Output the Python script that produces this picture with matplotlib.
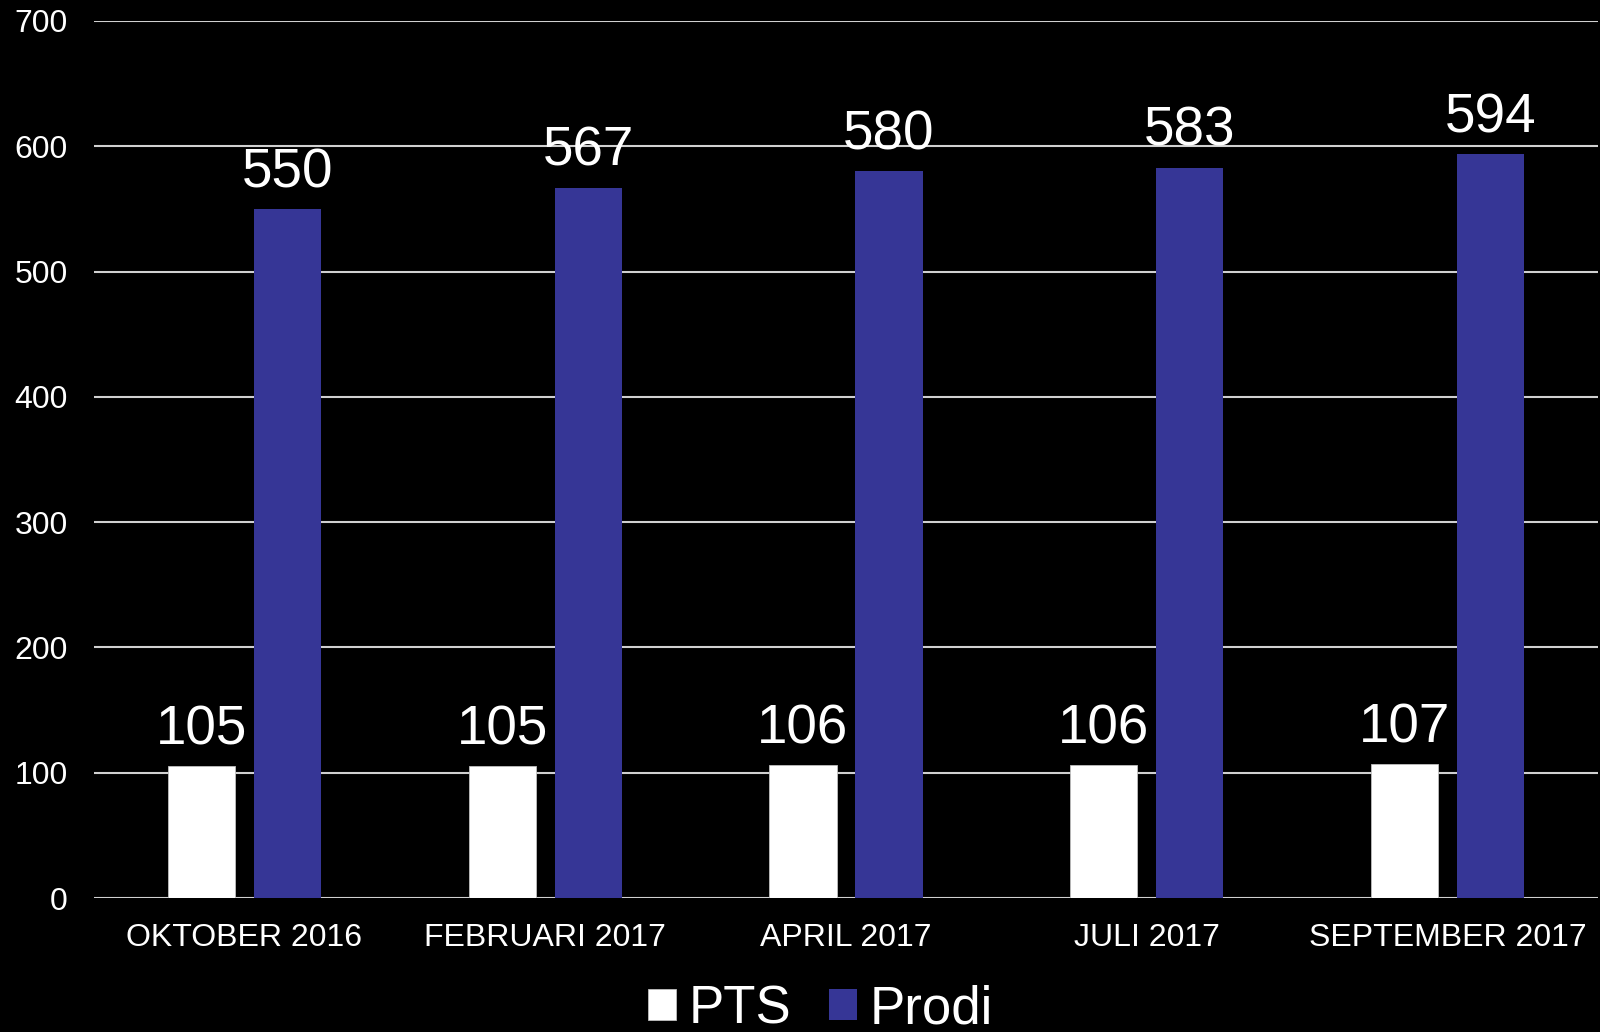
import matplotlib.pyplot as plt
import numpy as np

plt.rcParams['font.family'] = ['Liberation Sans', 'DejaVu Sans']

# data
months = ['OKTOBER 2016', 'FEBRUARI 2017', 'APRIL 2017', 'JULI 2017', 'SEPTEMBER 2017']
pts = [105, 105, 106, 106, 107]
prodi = [550, 567, 580, 583, 594]

fig = plt.figure(figsize=(16, 10.32), dpi=100, facecolor='black')
ax = fig.add_axes([0.05875, 0.1298, 0.94, 0.8499], facecolor='black')

x = np.arange(len(months))
w = 0.223
off = 0.143
b1 = ax.bar(x - off, pts, w, color='white', edgecolor='#bfbfbf', linewidth=0.6, label='PTS', zorder=3)
b2 = ax.bar(x + off, prodi, w, color='#363696', label='Prodi', zorder=3)

for bars in (b1, b2):
    ax.bar_label(bars, color='white', fontsize=39.5, padding=7)

ax.set_xlim(-0.5, len(months) - 0.5)
ax.set_ylim(0, 700)
ax.set_yticks(range(0, 701, 100))
ax.set_xticks(x)
ax.set_xticklabels(months)
ax.grid(axis='y', color='#d0d0d0', linewidth=1.5, zorder=0)
ax.tick_params(axis='y', length=0, pad=19, labelsize=23, labelcolor='white')
ax.tick_params(axis='x', length=0, pad=18, labelsize=23, labelcolor='white')
for s in ax.spines.values():
    s.set_visible(False)

fig.legend(loc='center', bbox_to_anchor=(0.5126, 0.022), ncol=2, frameon=False,
           fontsize=38, labelcolor='white', handlelength=0.53, handleheight=0.53,
           handletextpad=0.24, columnspacing=0.71)

fig.savefig('out.png', facecolor='black')
